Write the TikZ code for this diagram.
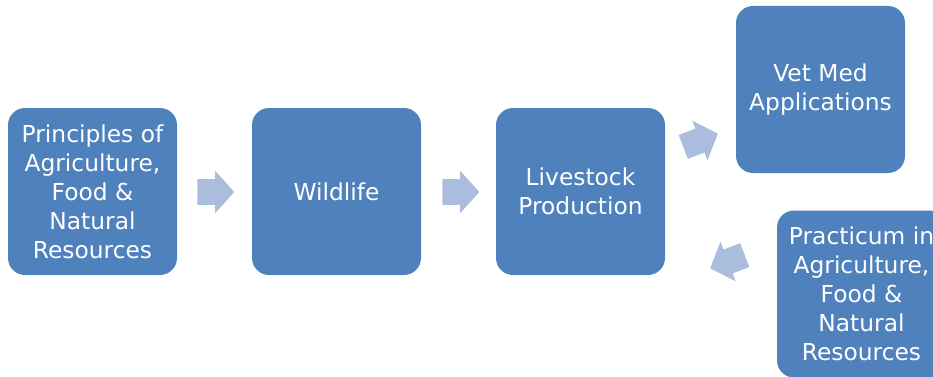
\documentclass[tikz,border=0pt]{standalone}
\usepackage{fontspec}
\setmainfont{DejaVu Sans}
\usetikzlibrary{shapes.arrows}

\definecolor{boxblue}{HTML}{4F81BD}
\definecolor{arrowblue}{HTML}{AABDDC}

\tikzset{
  course/.style={draw=none, fill=boxblue, rounded corners=12.75pt,
    minimum width=126.75pt, minimum height=125.25pt, inner sep=0pt,
    text=white, align=center, font=\fontsize{17.5}{21.75}\selectfont},
  flowarrow/.style={single arrow, fill=arrowblue, draw=none, anchor=tail,
    inner xsep=0pt, inner ysep=9.375pt, minimum height=27.75pt,
    single arrow head extend=6.375pt, single arrow tip angle=96}
}

\begin{document}
\begin{tikzpicture}[x=0.75pt,y=0.75pt]
\clip (0,0) rectangle (933,376);

\node[course] (principles) at (92.5,184.5) {Principles of\\Agriculture,\\Food \&\\Natural\\Resources};
\node[course] (wildlife) at (336.5,184.5) {Wildlife};
\node[course] (livestock) at (580.5,184.5) {Livestock\\Production};
\node[course] (vetmed) at (820.5,286.5) {Vet Med\\Applications};
\node[course] (practicum) at (861.5,82) {Practicum in\\Agriculture,\\Food \&\\Natural\\Resources};

% block arrows, placed by their tails
\node[flowarrow] (a1) at (197,184) {};
\node[flowarrow] (a2) at (442,184) {};
\node[flowarrow, rotate=21] (a3) at (683,229) {};
\node[flowarrow, rotate=201] (a4) at (745,121) {};
\end{tikzpicture}
\end{document}
